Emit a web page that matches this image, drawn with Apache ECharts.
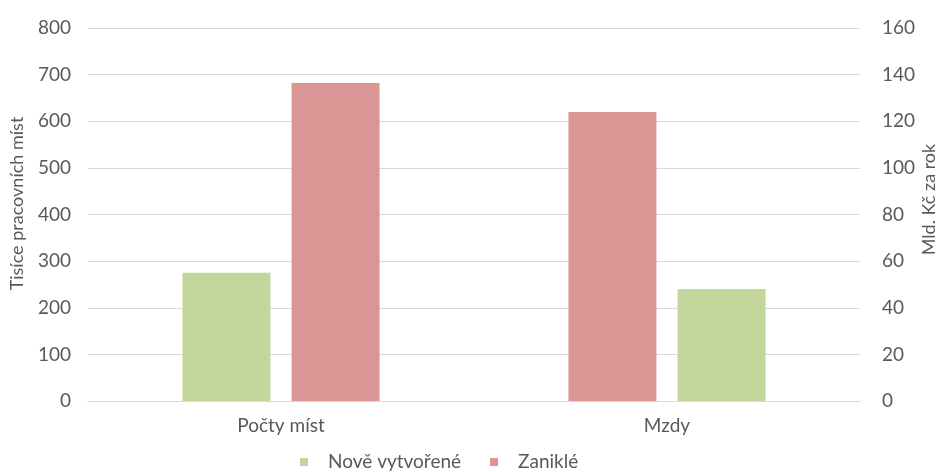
<!DOCTYPE html>
<html lang="cs">
<head>
<meta charset="utf-8">
<title>Nově vytvořená a zaniklá pracovní místa</title>
<script src="https://cdn.jsdelivr.net/npm/echarts@6/dist/echarts.min.js"></script>
<style>
  html, body { margin: 0; padding: 0; background: #ffffff; }
  #chart { width: 938px; height: 472px; }
</style>
</head>
<body>
<div id="chart"></div>
<script>
// Categories on the x axis
const categories = ['Počty míst', 'Mzdy'];

// Job counts, thousands of jobs (left axis)
const jobsCreated = [275, null];
const jobsLost = [682, null];

// Wages, bn CZK per year (right axis)
const wagesLost = [null, 124];
const wagesCreated = [null, 48];

// Axis ranges
const jobsAxis = { min: 0, max: 800, interval: 100 };
const wagesAxis = { min: 0, max: 160, interval: 20 };

const GREEN = '#c3d69b';
const RED = '#d99694';
const TEXT = '#595959';
const GRID = '#d9d9d9';
const FONT = 'Lato, "Open Sans", sans-serif';
const FONT_SIZE = 19;

const chart = echarts.init(document.getElementById('chart'), null, { renderer: 'canvas' });

const valueAxisBase = {
  type: 'value',
  nameLocation: 'middle',
  nameMoveOverlap: false,
  nameTextStyle: { color: TEXT, fontSize: 18, fontFamily: FONT },
  axisLine: { show: false },
  axisTick: { show: false },
  axisLabel: { color: TEXT, fontSize: FONT_SIZE, fontFamily: FONT }
};

// Bars in the same slot share a stack id, so each category shows two bars
const barBase = { type: 'bar', barWidth: 88, barGap: '24%' };

chart.setOption({
  animation: false,
  textStyle: { fontFamily: FONT },
  grid: { left: 88, right: 78, top: 28, bottom: 71, outerBoundsMode: 'none', containLabel: false },
  legend: {
    data: ['Nově vytvořené', 'Zaniklé'],
    left: 295,
    top: 447,
    icon: 'rect',
    itemWidth: 8,
    itemHeight: 8,
    itemGap: 29,
    textStyle: { color: TEXT, fontSize: FONT_SIZE, fontFamily: FONT, lineHeight: 20, padding: [0, 0, 0, 15] }
  },
  xAxis: {
    type: 'category',
    data: categories,
    axisTick: { show: false },
    axisLine: { lineStyle: { color: GRID, width: 1 } },
    axisLabel: { color: TEXT, fontSize: FONT_SIZE, fontFamily: FONT, margin: 15 }
  },
  yAxis: [
    Object.assign({}, valueAxisBase, jobsAxis, {
      name: 'Tisíce pracovních míst',
      nameGap: 62,
      position: 'left',
      nameTextStyle: Object.assign({}, valueAxisBase.nameTextStyle, { padding: [0, 0, 0, 22] }),
      axisLabel: Object.assign({}, valueAxisBase.axisLabel, { margin: 17 }),
      splitLine: { show: true, lineStyle: { color: GRID, width: 1 } }
    }),
    Object.assign({}, valueAxisBase, wagesAxis, {
      name: 'Mld. Kč za rok',
      nameGap: 60,
      position: 'right',
      nameTextStyle: Object.assign({}, valueAxisBase.nameTextStyle, { padding: [0, 0, 0, 30] }),
      axisLabel: Object.assign({}, valueAxisBase.axisLabel, { margin: 22 }),
      splitLine: { show: false }
    })
  ],
  series: [
    Object.assign({}, barBase, {
      name: 'Nově vytvořené', yAxisIndex: 0, stack: 'slotA',
      itemStyle: { color: GREEN }, data: jobsCreated
    }),
    Object.assign({}, barBase, {
      name: 'Zaniklé', yAxisIndex: 0, stack: 'slotB',
      itemStyle: { color: RED }, data: jobsLost
    }),
    Object.assign({}, barBase, {
      name: 'Zaniklé', yAxisIndex: 1, stack: 'slotA',
      itemStyle: { color: RED }, data: wagesLost
    }),
    Object.assign({}, barBase, {
      name: 'Nově vytvořené', yAxisIndex: 1, stack: 'slotB',
      itemStyle: { color: GREEN }, data: wagesCreated
    })
  ]
});
</script>
</body>
</html>
